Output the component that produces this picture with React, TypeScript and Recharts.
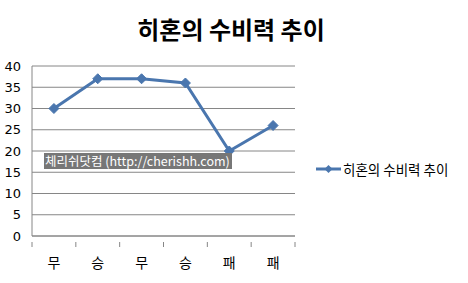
import { ComposedChart, Line, XAxis, YAxis, CartesianGrid } from "recharts"

const categories = ["무", "승", "무", "승", "패", "패"]
const values = [30, 37, 37, 36, 20, 26]
const yTicks = [0, 5, 10, 15, 20, 25, 30, 35, 40]

const seriesName = "히혼의 수비력 추이"
const lineColor = "#4A76AE"

const data = categories.map((c, i) => ({ cat: c, v: values[i] }))

const plotW = 263
const bw = plotW / categories.length

const Diamond = (props: any) => {
  const { cx, cy } = props
  if (cx == null || cy == null) return null
  const r = 5
  return (
    <path
      d={`M${cx},${cy - r}L${cx + r},${cy}L${cx},${cy + r}L${cx - r},${cy}Z`}
      fill={lineColor}
      stroke={lineColor}
    />
  )
}

// category label plus tick marks at band boundaries (Excel style)
const CatTick = (props: any) => {
  const { x, y, payload, index, visibleTicksCount } = props
  const top = y - 2
  return (
    <g>
      <line x1={x - bw / 2} y1={top} x2={x - bw / 2} y2={top + 5} stroke="#868686" />
      {index === visibleTicksCount - 1 && (
        <line x1={x + bw / 2} y1={top} x2={x + bw / 2} y2={top + 5} stroke="#868686" />
      )}
      <text x={x} y={y + 24} textAnchor="middle" fontSize={14} fill="#000"
        fontFamily="'Noto Sans CJK KR', sans-serif">
        {payload.value}
      </text>
    </g>
  )
}

const App = () => {
  return (
    <div style={{ position: "absolute", left: 0, top: 0, width: 468, height: 283, background: "#fff" }}>
      <div style={{
        position: "absolute", left: 0, width: 462, top: 14, textAlign: "center",
        fontFamily: "'Noto Sans CJK KR', sans-serif", fontWeight: 700, fontSize: 24, lineHeight: "30px", color: "#000",
      }}>
        {seriesName}
      </div>
      <ComposedChart width={468} height={283} data={data}
        margin={{ top: 66, right: 173, bottom: 0, left: 0 }}>
        <CartesianGrid vertical={false} stroke="#868686" strokeDasharray="" />
        <XAxis dataKey="cat" height={47} stroke="#868686" tickLine={false}
          padding={{ left: bw / 2, right: bw / 2 }}
          tick={<CatTick />} interval={0} />
        <YAxis domain={[0, 40]} ticks={yTicks} interval={0} width={32} stroke="#868686" tickLine={false}
          tickSize={0} tickMargin={11}
          tick={{ fill: "#000", fontSize: 13, fontFamily: "'DejaVu Sans', sans-serif" }} />
        <Line dataKey="v" name={seriesName} stroke={lineColor} strokeWidth={3}
          dot={<Diamond />} activeDot={false} isAnimationActive={false} />
      </ComposedChart>
      <div style={{
        position: "absolute", left: 44, top: 153, height: 16, background: "#777",
        color: "#fff", fontSize: 12.5, lineHeight: "16px", whiteSpace: "nowrap", padding: "0 2px 0 1px",
        fontFamily: "'Noto Sans CJK KR', sans-serif",
      }}>
        체리쉬닷컴 (http://cherishh.com)
      </div>
      <div style={{ position: "absolute", left: 315, top: 159, display: "flex", alignItems: "center" }}>
        <svg width={27} height={14}>
          <line x1={1} y1={7} x2={26} y2={7} stroke={lineColor} strokeWidth={3} />
          <path d="M13.5,3L17.5,7L13.5,11L9.5,7Z" fill={lineColor} />
        </svg>
        <span style={{ fontSize: 13.5, fontFamily: "'Noto Sans CJK KR', sans-serif", color: "#000", marginLeft: 1, whiteSpace: "nowrap" }}>
          {seriesName}
        </span>
      </div>
    </div>
  )
}

export default App
